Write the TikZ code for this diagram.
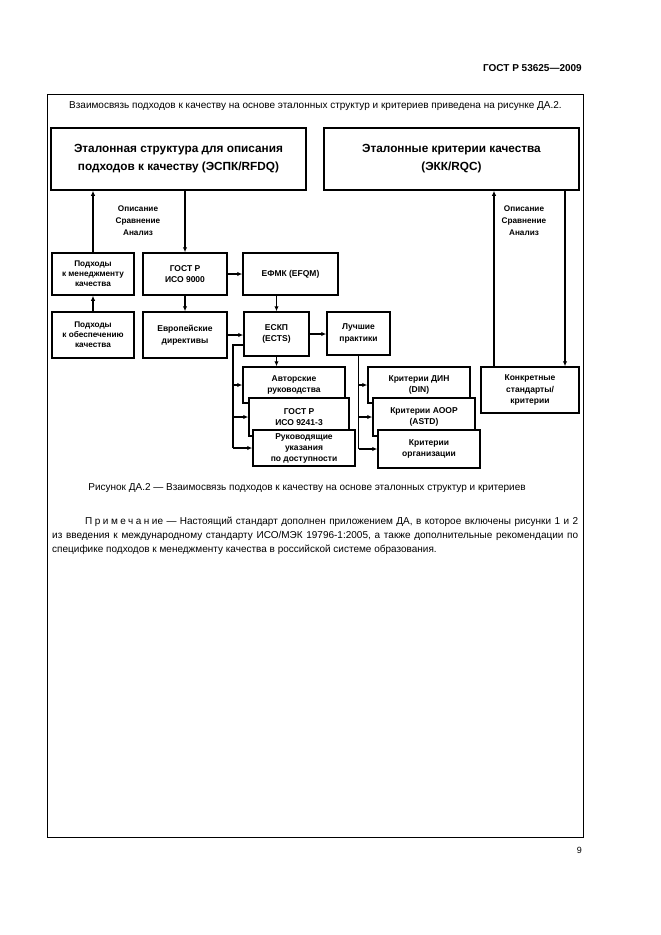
\documentclass[tikz,border=0pt]{standalone}
\usepackage{fontspec}
\setmainfont{Liberation Sans}
\usetikzlibrary{arrows.meta}

\tikzset{
  bigbox/.style={draw, line width=1.6pt, align=center, inner sep=0pt,
    font=\bfseries\fontsize{11.8}{18}\selectfont, minimum width=255pt, minimum height=62pt},
  smallbox/.style={draw, line width=1.5pt, fill=white, align=center, inner sep=0pt,
    font=\bfseries\fontsize{8.5}{11.5}\selectfont},
  lbl/.style={align=center, inner sep=0pt, font=\bfseries\fontsize{8.2}{12}\selectfont},
  conn/.style={line width=1.1pt, -{Latex[length=5pt,width=4.5pt]}},
  bus/.style={line width=2.2pt},
  pagetext/.style={inner sep=0pt, font=\fontsize{10}{14}\selectfont}
}

\begin{document}
\begin{tikzpicture}[x=1pt,y=-1pt]
\useasboundingbox[fill=white] (0,0) rectangle (661,935);
% Page frame and running texts
\draw[line width=0.9pt] (47,94) rectangle (583,837);
\node[pagetext, anchor=base east, font=\bfseries\fontsize{10}{12}\selectfont] (gost) at (582,71) {ГОСТ Р 53625—2009};
\node[pagetext, anchor=base west] (intro) at (69,108) {Взаимосвязь подходов к качеству на основе эталонных структур и критериев приведена на рисунке ДА.2.};
% Reference structures
\node[bigbox] (esp) at (178.5,159) {Эталонная структура для описания\\подходов к качеству (ЭСПК/RFDQ)};
\node[bigbox] (ekk) at (451.5,159) {Эталонные критерии качества\\(ЭКК/RQC)};
\node[lbl] (opisl) at (138,221) {Описание\\Сравнение\\Анализ};
\node[lbl] (opisr) at (524,221) {Описание\\Сравнение\\Анализ};
% Left column
\node[smallbox, minimum width=82pt, minimum height=42pt, font=\bfseries\fontsize{8.2}{10}\selectfont] (pmk) at (93,274) {Подходы\\к менеджменту\\качества};
\node[smallbox, minimum width=82pt, minimum height=46pt, font=\bfseries\fontsize{8.2}{10}\selectfont] (pok) at (93,335) {Подходы\\к обеспечению\\качества};
\node[smallbox, minimum width=84pt, minimum height=42pt] (iso) at (185,274) {ГОСТ Р\\ИСО 9000};
\node[smallbox, minimum width=84pt, minimum height=46pt] (evd) at (185,335) {Европейские\\директивы};
\node[smallbox, minimum width=95pt, minimum height=42pt] (efqm) at (290.5,274) {ЕФМК (EFQM)};
\node[smallbox, minimum width=65pt, minimum height=44pt] (ects) at (276.5,334) {ЕСКП\\(ECTS)};
\node[smallbox, minimum width=63pt, minimum height=43pt] (lp) at (358.5,333.5) {Лучшие\\практики};
% Stacked guides
\node[smallbox, minimum width=102pt, minimum height=36pt] (avt) at (294,385) {Авторские\\руководства};
\node[smallbox, minimum width=100pt, minimum height=38pt] (g9241) at (299,417) {ГОСТ Р\\ИСО 9241-3};
\node[smallbox, minimum width=102pt, minimum height=36pt, font=\bfseries\fontsize{8.5}{11}\selectfont] (ruk) at (304,448) {Руководящие\\указания\\по доступности};
% Stacked criteria
\node[smallbox, minimum width=102pt, minimum height=36pt] (din) at (419,385) {Критерии ДИН\\(DIN)};
\node[smallbox, minimum width=102pt, minimum height=38pt] (astd) at (424,417) {Критерии АООР\\(ASTD)};
\node[smallbox, minimum width=102pt, minimum height=38pt] (org) at (429,449) {Критерии\\организации};
\node[smallbox, minimum width=98pt, minimum height=46pt] (kon) at (530,390) {Конкретные\\стандарты/\\критерии};
% Connectors
\draw[conn] (pmk.north) -- (pmk.north |- esp.south);
\draw[conn] (esp.south -| iso.north) -- (iso.north);
\draw[conn] (pok.north) -- (pmk.south);
\draw[conn] (iso.south) -- (evd.north);
\draw[conn] (iso.east) -- (iso.east -| efqm.west);
\draw[conn] (ects.north |- efqm.south) -- (ects.north);
\draw[conn] (evd.east) -- (evd.east -| ects.west);
\draw[conn] (ects.east) -- (ects.east -| lp.west);
\draw[conn] (ects.south) -- (ects.south |- avt.north);
% Left bus
\coordinate (lbus) at (233,345);
\draw[bus] (lbus -| ects.west) -- (lbus) -- (lbus |- ruk.west);
\draw[conn] (lbus |- avt.west) -- (avt.west);
\draw[conn] (lbus |- g9241.west) -- (g9241.west);
\draw[conn] (lbus |- ruk.west) -- (ruk.west);
% Right bus
\draw[line width=1.2pt] (lp.south) -- (lp.south |- org.west);
\draw[conn] (lp.south |- din.west) -- (din.west);
\draw[conn] (lp.south |- astd.west) -- (astd.west);
\draw[conn] (lp.south |- org.west) -- (org.west);
% Specific standards
\draw[conn] ([xshift=-36pt]kon.north) -- ([xshift=-36pt]kon.north |- ekk.south);
\draw[conn] ([xshift=35pt]kon.north |- ekk.south) -- ([xshift=35pt]kon.north);
% Caption and note
\node[pagetext, anchor=base] (capt) at (307,490) {Рисунок ДА.2 — Взаимосвязь подходов к качеству на основе эталонных структур и критериев};
\node[pagetext, anchor=base west, text width=526pt, align=justify] (note) at (52,524)
  {\hspace*{33pt}{\addfontfeature{LetterSpace=25}Примечани}е — Настоящий стандарт дополнен приложением ДА, в которое включены рисунки 1 и 2\linebreak
   из введения к международному стандарту ИСО/МЭК 19796-1:2005, а также дополнительные рекомендации по\linebreak
   специфике подходов к менеджменту качества в российской системе образования.};
\node[pagetext, anchor=base east, font=\fontsize{9}{11}\selectfont] (pnum) at (582,853) {9};
\end{tikzpicture}
\end{document}
